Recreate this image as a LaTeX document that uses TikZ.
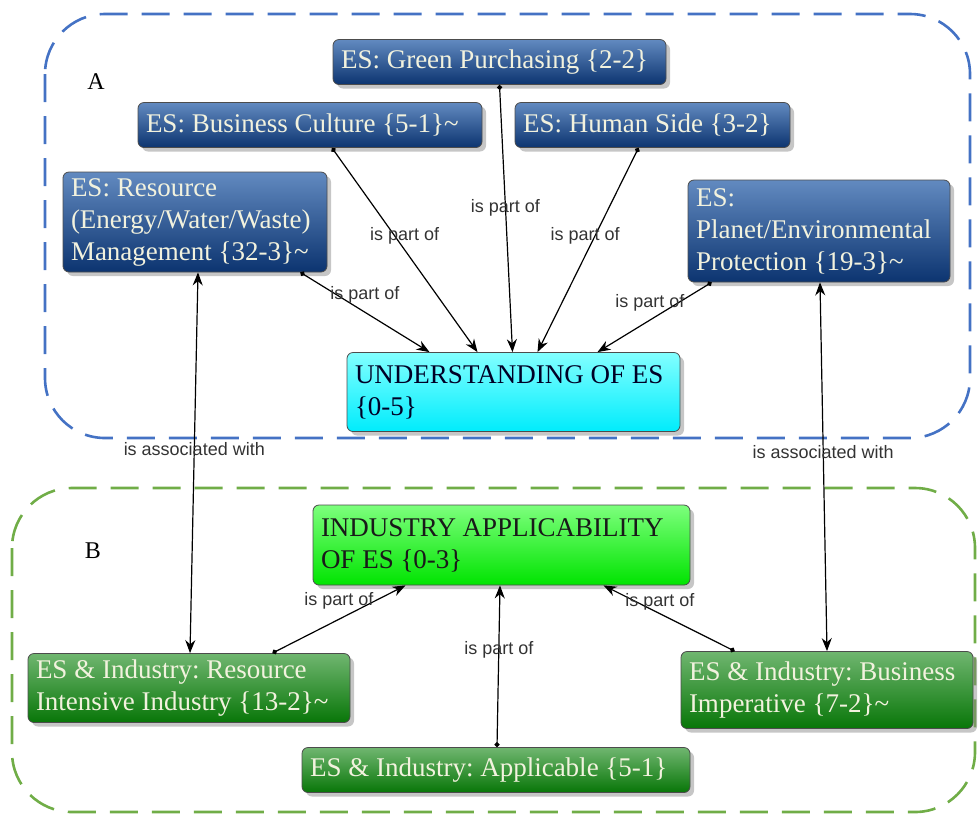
\documentclass[tikz,border=0pt]{standalone}
\usepackage{fontspec}
\setmainfont{Liberation Serif}
\newfontfamily\lblfont{Liberation Sans}
\usetikzlibrary{arrows.meta,shadows}

\definecolor{estop}{RGB}{98,138,192}
\definecolor{esbot}{RGB}{12,52,112}
\definecolor{cyantop}{RGB}{130,255,255}
\definecolor{cyanbot}{RGB}{0,236,252}
\definecolor{limetop}{RGB}{125,255,125}
\definecolor{limebot}{RGB}{0,228,0}
\definecolor{greentop}{RGB}{112,182,112}
\definecolor{greenbot}{RGB}{8,118,8}
\definecolor{cream}{RGB}{242,242,222}
\definecolor{regblue}{RGB}{68,114,196}
\definecolor{reggreen}{RGB}{112,173,71}

\tikzset{
    box/.style={draw=black!70, rounded corners=3pt, align=flush left, inner xsep=4pt,
        inner ysep=2pt, font=\fontsize{13.5}{16}\selectfont\frenchspacing,
        drop shadow={shadow xshift=2pt, shadow yshift=-2pt, opacity=.45}},
    esbox/.style={box, top color=estop, bottom color=esbot, text=cream},
    corebox/.style={box, top color=cyantop, bottom color=cyanbot, text=black!85!blue},
    limebox/.style={box, top color=limetop, bottom color=limebot, text=black!90},
    esibox/.style={box, top color=greentop, bottom color=greenbot, text=cream},
    lbl/.style={font=\lblfont\fontsize{9}{10}\selectfont, text=black!80},
    partof/.style={line width=0.6pt, {Circle[length=2.5pt]}-{Stealth[length=6.5pt,width=5pt]}},
    assoc/.style={line width=0.6pt, {Stealth[length=6.5pt,width=5pt]}-{Stealth[length=6.5pt,width=5pt]}},
    region/.style={line width=1.3pt, dash pattern=on 14pt off 7pt, rounded corners=30pt}
}

\begin{document}
\begin{tikzpicture}[x=0.5pt, y=-0.5pt]
        \useasboundingbox (0,0) rectangle (980,816);
        % regions
        \draw [region, regblue] (45,14) rectangle (970,438);
        \draw [region, reggreen] (12,488) rectangle (975,812);
        \node [font=\fontsize{12}{14}\selectfont] (labA) at (96,82) {A};
        \node [font=\fontsize{12}{14}\selectfont] (labB) at (93,551) {B};

        % region A
        \node [esbox, text width=158.5pt, minimum height=22.5pt] (gp) at (499.5,62)
            {ES: Green Purchasing \{2-2\}};
        \node [esbox, text width=164pt, minimum height=22.5pt] (bc) at (310,125)
            {ES: Business Culture \{5-1\}\textasciitilde};
        \node [esbox, text width=129.5pt, minimum height=22.5pt] (hs) at (652.5,125)
            {ES: Human Side \{3-2\}};
        \node [esbox, text width=124pt, minimum height=50pt] (res) at (195,222)
            {ES: Resource\\(Energy/Water/Waste)\\Management \{32-3\}\textasciitilde};
        \node [esbox, text width=123pt, minimum height=51pt] (pl) at (819,231)
            {ES:\\Planet/Environmental\\Protection \{19-3\}\textasciitilde};
        \node [corebox, text width=158.5pt, minimum height=39.5pt] (und) at (513.5,392)
            {UNDERSTANDING OF ES\\\{0-5\}};

        % region B
        \node [limebox, text width=180.5pt, minimum height=40pt] (ind) at (501.5,545)
            {INDUSTRY APPLICABILITY\\OF ES \{0-3\}};
        \node [esibox, text width=153pt, minimum height=34.5pt] (rii) at (189,688)
            {ES \& Industry: Resource\\Intensive Industry \{13-2\}\textasciitilde};
        \node [esibox, text width=138pt, minimum height=38.5pt] (bim) at (827,690)
            {ES \& Industry: Business\\Imperative \{7-2\}\textasciitilde};
        \node [esibox, text width=186pt, minimum height=22.5pt] (app) at (496,770)
            {ES \& Industry: Applicable \{5-1\}};

        % is part of
        \draw [partof] ([xshift=-13.5pt]res.south east) --
            node[lbl, pos=.5, yshift=8.5pt] {is part of} ([xshift=-42pt]und.north);
        \draw [partof] ([xshift=11pt]bc.south) --
            node[lbl, pos=.43, xshift=5pt] {is part of} ([xshift=-18pt]und.north);
        \draw [partof] (gp.south) --
            node[lbl, pos=.46] {is part of} ([xshift=-0.5pt]und.north);
        \draw [partof] ([xshift=-7pt]hs.south) --
            node[lbl, pos=.43, xshift=-5pt] {is part of} ([xshift=12pt]und.north);
        \draw [partof] ([xshift=12pt]pl.south west) --
            node[lbl, pos=.54, yshift=8.5pt] {is part of} ([xshift=42pt]und.north);
        \draw [partof] ([xshift=-39pt]rii.north east) --
            node[lbl, pos=.5, yshift=9pt] {is part of} ([xshift=-48pt]ind.south);
        \draw [partof] ([xshift=0.5pt]app.north) --
            node[lbl, pos=.6] {is part of} ([xshift=-0.75pt]ind.south);
        \draw [partof] ([xshift=27pt]bim.north west) --
            node[lbl, pos=.57, yshift=6pt] {is part of} ([xshift=51pt]ind.south);

        % is associated with
        \draw [assoc] ([xshift=1.5pt]res.south) --
            node[lbl, pos=.465] {is associated with} ([xshift=0.5pt]rii.north);
        \draw [assoc] ([xshift=0.5pt]pl.south) --
            node[lbl, pos=.46] {is associated with} (bim.north);
    \end{tikzpicture}
\end{document}
